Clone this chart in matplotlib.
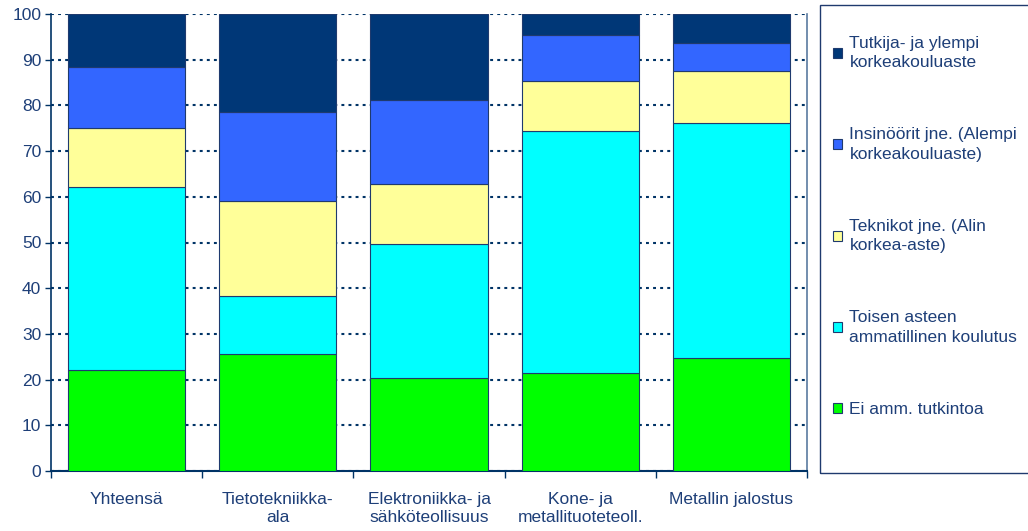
import matplotlib
matplotlib.use("Agg")
import matplotlib.pyplot as plt
from matplotlib.patches import Rectangle, Patch
import numpy as np

plt.rcParams["font.family"] = ["Liberation Sans", "DejaVu Sans"]

# Data (percent shares)
categories = ["Yhteensä", "Tietotekniikka-\nala", "Elektroniikka- ja\nsähköteollisuus",
              "Kone- ja\nmetallituoteteoll.", "Metallin jalostus"]
series_names = ["Ei amm. tutkintoa",
                "Toisen asteen\nammatillinen koulutus",
                "Teknikot jne. (Alin\nkorkea-aste)",
                "Insinöörit jne. (Alempi\nkorkeakouluaste)",
                "Tutkija- ja ylempi\nkorkeakouluaste"]
ei_amm = [22.2, 25.7, 20.3, 21.4, 24.7]
toinen_aste = [39.9, 12.7, 29.4, 53.0, 51.4]
teknikot = [13.0, 20.7, 13.1, 11.0, 11.5]
insinoorit = [13.4, 19.5, 18.3, 10.1, 6.1]
tutkija = [11.5, 21.4, 18.9, 4.5, 6.3]
series = [ei_amm, toinen_aste, teknikot, insinoorit, tutkija]
colors = ["#00FF00", "#00FFFF", "#FFFF99", "#3366FF", "#003777"]

text_color = "#1E3F78"
navy = "#003366"

fig = plt.figure(figsize=(10.28, 5.31), dpi=100)
ax = fig.add_axes([51 / 1028, 60 / 531, 756 / 1028, 457 / 531])

x = np.arange(len(categories))
bottom = np.zeros(len(categories))
for vals, col in zip(series, colors):
    ax.bar(x, vals, width=0.775, bottom=bottom, color=col,
           edgecolor="#1F3A6E", linewidth=0.8, zorder=3)
    bottom += np.array(vals)

ax.set_xlim(-0.5, len(categories) - 0.5)
ax.set_ylim(0, 100)
ax.set_yticks(range(0, 101, 10))
ax.yaxis.grid(True, linestyle=(0, (1.4, 2.0)), color=navy, linewidth=1.5, zorder=1)
ax.set_axisbelow(True)

ax.set_xticks(x)
ax.set_xticklabels(categories, color=text_color, fontsize=12.5, linespacing=1.3)
ax.set_xticks(np.arange(-0.5, len(categories), 1.0), minor=True)
ax.tick_params(axis="x", which="major", length=0, pad=15)
ax.tick_params(axis="x", which="minor", length=5, color=navy, width=1)
ax.tick_params(axis="y", length=4, color=navy, width=1, labelcolor=text_color,
               labelsize=12.5, pad=3)

ax.spines["top"].set_visible(False)
ax.spines["left"].set_color(navy)
ax.spines["bottom"].set_color(navy)
ax.spines["left"].set_linewidth(1.2)
ax.spines["bottom"].set_linewidth(1.5)
ax.spines["right"].set_color("#5A7AA0")
ax.spines["right"].set_linewidth(1.2)

# Legend frame
fig.patches.append(Rectangle((820 / 1028, 58 / 531), 0.3, 468 / 531,
                             transform=fig.transFigure, fill=False,
                             edgecolor="#1F3A6E", linewidth=1.0))
handles = [Patch(facecolor=c, edgecolor="#1F3A6E", linewidth=0.8) for c in colors]
leg = fig.legend(handles[::-1], series_names[::-1], loc="upper left",
                 bbox_to_anchor=(826 / 1028, 502 / 531), frameon=False,
                 fontsize=12.5, labelcolor=text_color, handlelength=0.5,
                 handleheight=0.5, handletextpad=0.45, labelspacing=3.3,
                 borderaxespad=0)
for t in leg.get_texts():
    t.set_linespacing(1.35)

fig.savefig("out.png", dpi=100)
